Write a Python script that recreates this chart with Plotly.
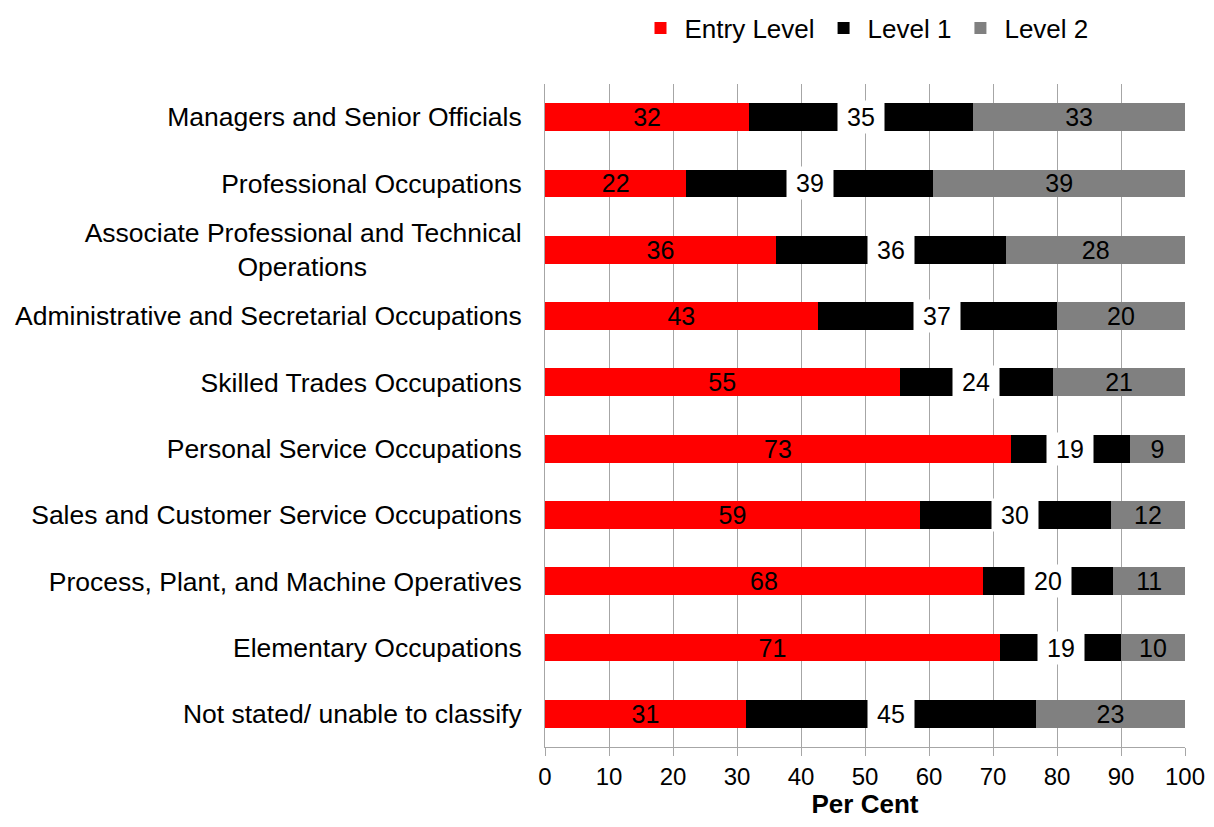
import plotly.graph_objects as go

categories = [
    "Managers and Senior Officials",
    "Professional Occupations",
    "Associate Professional and Technical<br>Operations" + "\u00a0" * 21,
    "Administrative and Secretarial Occupations",
    "Skilled Trades Occupations",
    "Personal Service Occupations",
    "Sales and Customer Service Occupations",
    "Process, Plant, and Machine Operatives",
    "Elementary Occupations",
    "Not stated/ unable to classify",
]
entry_level = [31.9, 22.1, 36.1, 42.6, 55.4, 72.8, 58.6, 68.4, 71.1, 31.4]
level_1 = [35.0, 38.6, 36.0, 37.4, 24.0, 18.6, 29.8, 20.4, 18.9, 45.3]
level_2 = [33.1, 39.3, 27.9, 20.0, 20.6, 8.6, 11.6, 11.2, 10.0, 23.3]

FONT = "Liberation Sans, Arial, sans-serif"
GRID = "#a6a6a6"
FS = 25

fig = go.Figure()

fig.add_trace(go.Bar(
    y=categories, x=entry_level, name="Entry Level", orientation="h",
    marker=dict(color="#ff0000", line=dict(width=0)),
    text=[f"{v:.0f}" for v in entry_level], textposition="inside",
    insidetextanchor="middle", textangle=0,
    textfont=dict(color="#000000", size=FS, family=FONT),
))
fig.add_trace(go.Bar(
    y=categories, x=level_1, name="Level 1", orientation="h",
    marker=dict(color="#000000", line=dict(width=0)),
))
fig.add_trace(go.Bar(
    y=categories, x=level_2, name="Level 2", orientation="h",
    marker=dict(color="#808080", line=dict(width=0)),
    text=[f"{v:.0f}" for v in level_2], textposition="inside",
    insidetextanchor="middle", textangle=0,
    textfont=dict(color="#000000", size=FS, family=FONT),
))

# Level 1 labels sit on a white box in the middle of the black segment
for cat, e, l1 in zip(categories, entry_level, level_1):
    fig.add_annotation(
        x=e + l1 / 2, y=cat, text=f"{l1:.0f}", showarrow=False,
        bgcolor="#ffffff", width=46, height=32, borderpad=0,
        font=dict(color="#000000", size=FS, family=FONT),
    )

fig.update_layout(
    barmode="stack",
    bargap=0.58,
    width=1198, height=811,
    paper_bgcolor="#ffffff", plot_bgcolor="#ffffff",
    font=dict(family=FONT, size=FS, color="#000000"),
    margin=dict(l=537, r=21, t=76, b=72, autoexpand=False),
    uniformtext=dict(minsize=FS, mode="show"),
    legend=dict(
        orientation="h", x=0.5, xanchor="center",
        yref="container", y=1 - 20 / 811, yanchor="middle",
        font=dict(size=26, family=FONT), traceorder="normal", itemwidth=38,
    ),
    xaxis=dict(
        range=[0, 100], dtick=10, showgrid=True, gridcolor=GRID, gridwidth=1,
        showline=True, linecolor=GRID, linewidth=1,
        ticks="outside", ticklen=8, tickcolor=GRID,
        tickfont=dict(size=24, family=FONT), automargin=False,
        ticklabeloverflow="allow",
        title=dict(text="<b>Per Cent</b>", font=dict(size=26, family=FONT), standoff=5),
        zeroline=False,
    ),
    yaxis=dict(
        autorange="reversed", showline=True, linecolor=GRID, linewidth=1,
        showgrid=False, ticks="", ticklabelstandoff=17, automargin=False,
        tickfont=dict(size=26.5, family=FONT),
    ),
)

fig.write_html("out.html")
